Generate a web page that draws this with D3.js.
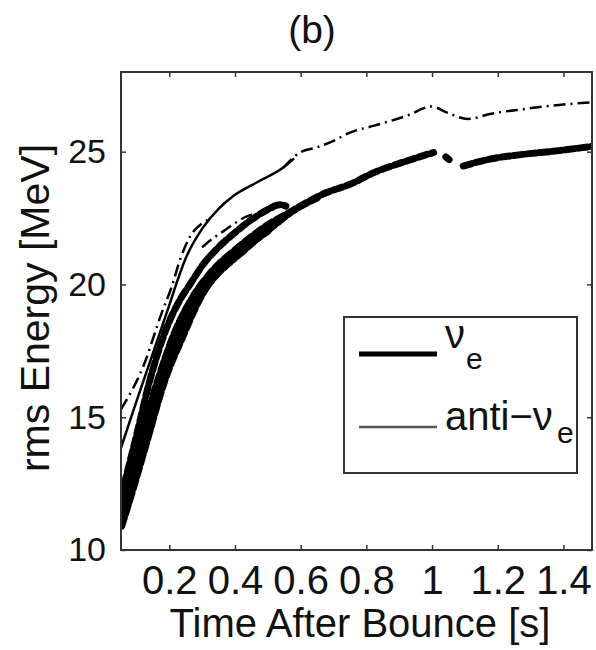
<!DOCTYPE html>
<html>
<head>
<meta charset="utf-8">
<script src="https://cdn.jsdelivr.net/npm/d3@7"></script>
<style>
  body { margin: 0; background: #fff; }
  #chart text { font-family: "Liberation Sans", Arial, sans-serif; fill: #111; }
</style>
</head>
<body>
<div id="chart"></div>
<script>
// axis setup
const xDomain = [0.053, 1.487];
const yDomain = [10, 28];
const xTicks = [0.2, 0.4, 0.6, 0.8, 1, 1.2, 1.4];
const xTickLabels = ['0.2', '0.4', '0.6', '0.8', '1', '1.2', '1.4'];
const yTicks = [10, 15, 20, 25];

// nu_e runs (t [s], rms energy [MeV]); null = gap in the plotted line
const nueMain = [[0.055, 10.9], [0.09, 12.3], [0.13, 14.0], [0.187, 16.4], [0.24, 18.0], [0.293, 19.45],
  [0.33, 20.2], [0.38, 20.8], [0.425, 21.25], [0.466, 21.7], [0.517, 22.2], [0.577, 22.77],
  [0.618, 23.08], [0.679, 23.46], [0.75, 23.77], [0.821, 24.2], [0.923, 24.65], [1.005, 24.97],
  null, [1.042, 24.8], [1.052, 24.7], null,
  [1.095, 24.46], [1.176, 24.72], [1.278, 24.9], [1.379, 25.03], [1.487, 25.2]];
const nueMidB = [[0.053, 11.2], [0.1, 13.1], [0.165, 15.9], [0.23, 18.2], [0.28, 19.3], [0.34, 20.3],
  [0.4, 21.0], [0.45, 21.55], [0.5, 22.0]];
const nueMidA = [[0.053, 11.6], [0.1, 13.6], [0.16, 16.2], [0.22, 18.3], [0.27, 19.5], [0.33, 20.5],
  [0.4, 21.3], [0.45, 21.8], [0.5, 22.25], [0.55, 22.6], [0.6, 22.95], [0.65, 23.25]];
const nueUpper = [[0.053, 12.0], [0.1, 14.3], [0.141, 16.4], [0.19, 18.3], [0.233, 19.43], [0.263, 20.0],
  [0.3, 20.7], [0.35, 21.4], [0.4, 21.95], [0.446, 22.4], [0.497, 22.8], [0.537, 23.0], [0.555, 22.95]];

// anti-nu_e runs
const antiSolid = [[0.053, 13.85], [0.1, 15.6], [0.15, 17.4], [0.192, 18.93], [0.253, 21.07],
  [0.303, 22.15], [0.35, 22.85], [0.395, 23.33], [0.466, 23.84], [0.547, 24.4], [0.58, 24.75]];
const antiDashA = [[0.053, 15.3], [0.121, 16.92], [0.177, 18.93], [0.207, 19.9], [0.233, 20.94],
  [0.263, 21.8], [0.3, 22.3], [0.32, 22.45]];
const antiDashB = [[0.3, 21.4], [0.314, 21.55], [0.37, 22.05], [0.44, 22.58], [0.46, 22.65]];
const antiUpper = [[0.547, 24.4], [0.598, 24.97], [0.649, 25.16], [0.70, 25.41], [0.75, 25.72],
  [0.821, 25.97], [0.923, 26.35], [0.999, 26.7], [1.044, 26.48], [1.11, 26.23], [1.176, 26.42],
  [1.278, 26.6], [1.379, 26.75], [1.487, 26.86]];

const legendLabels = ['\u03bd', 'anti\u2212\u03bd'];

const width = 596;
const height = 650;
const margin = { top: 72, right: 4, bottom: 100, left: 121 };

const svg = d3.select('#chart')
  .append('svg')
  .attr('width', width)
  .attr('height', height);

const x = d3.scaleLinear().domain(xDomain).range([margin.left, width - margin.right]);
const y = d3.scaleLinear().domain(yDomain).range([height - margin.bottom, margin.top]);

const line = d3.line()
  .defined(d => d !== null)
  .x(d => x(d[0]))
  .y(d => y(d[1]))
  .curve(d3.curveMonotoneX);

const plot = svg.append('g');

plot.append('defs').append('clipPath')
  .attr('id', 'clip')
  .append('rect')
  .attr('x', x.range()[0])
  .attr('y', y.range()[1])
  .attr('width', x.range()[1] - x.range()[0])
  .attr('height', y.range()[0] - y.range()[1]);

const curves = plot.append('g').attr('clip-path', 'url(#clip)');

// thick nu_e curves
[nueUpper, nueMidA, nueMidB, nueMain].forEach(s => {
  curves.append('path')
    .datum(s)
    .attr('d', line)
    .attr('fill', 'none')
    .attr('stroke', '#000')
    .attr('stroke-width', 7)
    .attr('stroke-linecap', 'round')
    .attr('stroke-dasharray', '9,4');
});

// anti nu_e curves
curves.append('path')
  .datum(antiSolid)
  .attr('d', line)
  .attr('fill', 'none')
  .attr('stroke', '#000')
  .attr('stroke-width', 2.5);

[antiDashA, antiDashB, antiUpper].forEach(s => {
  curves.append('path')
    .datum(s)
    .attr('d', line)
    .attr('fill', 'none')
    .attr('stroke', '#000')
    .attr('stroke-width', 2.5)
    .attr('stroke-dasharray', '12,5,2,5');
});

// axes with inward ticks, matlab style box
const fmt = (d, i) => xTickLabels[i];
const bottomAxis = svg.append('g')
  .attr('transform', `translate(0,${y.range()[0]})`)
  .call(d3.axisBottom(x).tickValues(xTicks).tickSize(-5).tickPadding(16).tickFormat(fmt));
bottomAxis.selectAll('text').style('font-size', '40px').attr('dy', '0.71em');

svg.append('g')
  .attr('transform', `translate(0,${y.range()[1]})`)
  .call(d3.axisTop(x).tickValues(xTicks).tickSize(-5).tickFormat(''));

const leftAxis = svg.append('g')
  .attr('transform', `translate(${x.range()[0]},0)`)
  .call(d3.axisLeft(y).tickValues(yTicks).tickSize(-5).tickPadding(15));
leftAxis.selectAll('text').style('font-size', '34px');

svg.append('g')
  .attr('transform', `translate(${x.range()[1]},0)`)
  .call(d3.axisRight(y).tickValues(yTicks).tickSize(-5).tickFormat(''));

svg.selectAll('.domain').remove();
svg.selectAll('.tick line').attr('stroke', '#333').attr('stroke-width', 1.5);

svg.append('rect')
  .attr('x', x.range()[0])
  .attr('y', y.range()[1])
  .attr('width', x.range()[1] - x.range()[0])
  .attr('height', y.range()[0] - y.range()[1])
  .attr('fill', 'none')
  .attr('stroke', '#333')
  .attr('stroke-width', 2);

// labels
svg.append('text')
  .attr('x', 312)
  .attr('y', 43)
  .attr('text-anchor', 'middle')
  .style('font-size', '39px')
  .text('(b)');

svg.append('text')
  .attr('x', 360)
  .attr('y', 637)
  .attr('text-anchor', 'middle')
  .style('font-size', '40px')
  .text('Time After Bounce [s]');

svg.append('text')
  .attr('transform', 'translate(49,308) rotate(-90)')
  .attr('text-anchor', 'middle')
  .style('font-size', '41px')
  .text('rms Energy [MeV]');

// legend
const legend = svg.append('g');
legend.append('rect')
  .attr('x', 344)
  .attr('y', 317)
  .attr('width', 233)
  .attr('height', 156)
  .attr('fill', '#fff')
  .attr('stroke', '#333')
  .attr('stroke-width', 2);

legend.append('line')
  .attr('x1', 359).attr('x2', 437)
  .attr('y1', 354).attr('y2', 354)
  .attr('stroke', '#000')
  .attr('stroke-width', 5);

legend.append('line')
  .attr('x1', 359).attr('x2', 437)
  .attr('y1', 427).attr('y2', 427)
  .attr('stroke', '#555')
  .attr('stroke-width', 2.5);

const t1 = legend.append('text').attr('x', 445).attr('y', 348).style('font-size', '40px');
t1.append('tspan').text(legendLabels[0]);
t1.append('tspan').attr('x', 466).attr('y', 369).style('font-size', '30px').text('e');

const t2 = legend.append('text').attr('x', 445).attr('y', 430).style('font-size', '40px');
t2.append('tspan').text(legendLabels[1]);
t2.append('tspan').attr('x', 557).attr('y', 443).style('font-size', '30px').text('e');
</script>
</body>
</html>
